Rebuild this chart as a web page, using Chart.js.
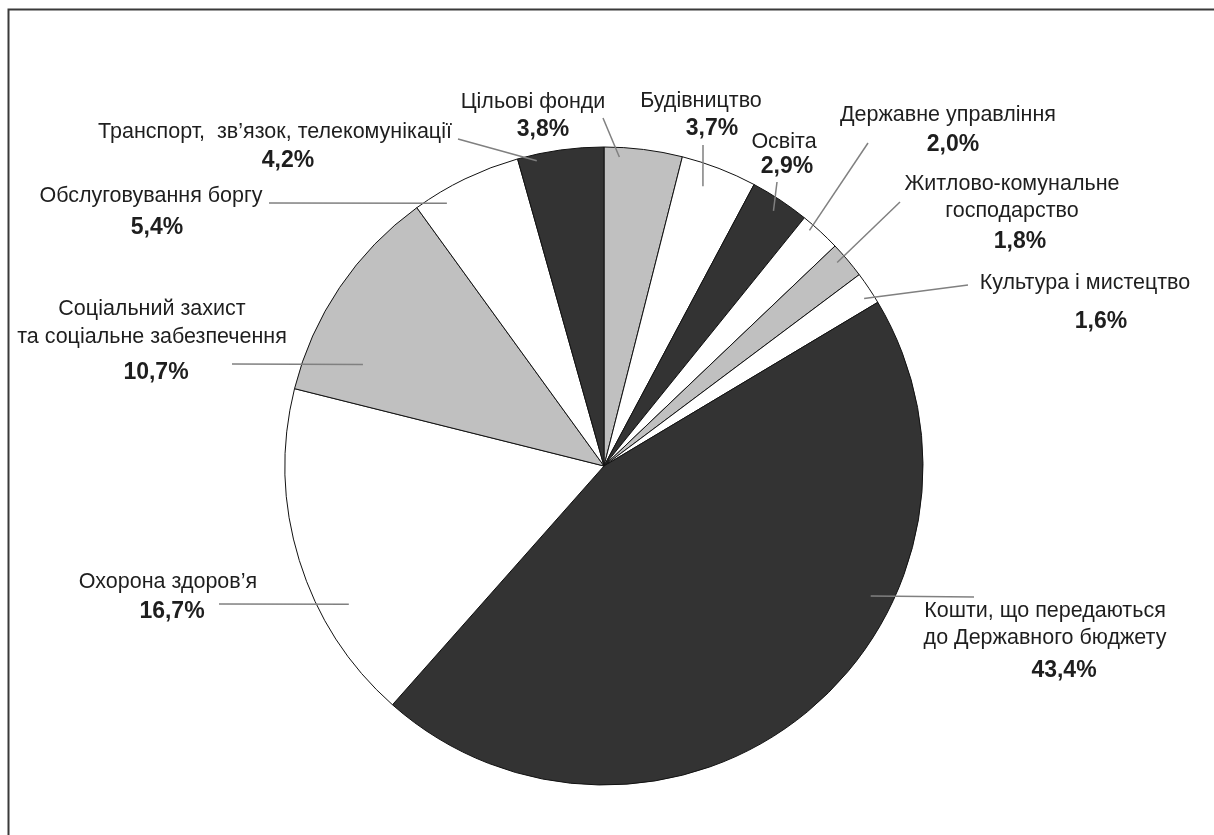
<!DOCTYPE html>
<html>
<head>
<meta charset="utf-8">
<script src="https://cdn.jsdelivr.net/npm/chart.js@4"></script>
<style>
  html, body { margin: 0; padding: 0; background: #fff; }
  #wrap { width: 1214px; height: 835px; position: relative; }
</style>
</head>
<body>
<div id="wrap"><canvas id="pie"></canvas></div>
<script>
// clockwise from 12 o'clock
const categories = [
  ["Цільові фонди"],
  ["Будівництво"],
  ["Освіта"],
  ["Державне управління"],
  ["Житлово-комунальне", "господарство"],
  ["Культура і мистецтво"],
  ["Кошти, що передаються", "до Державного бюджету"],
  ["Охорона здоров’я"],
  ["Соціальний захист", "та соціальне забезпечення"],
  ["Обслуговування боргу"],
  ["Транспорт,  зв’язок, телекомунікації"],
];
const shares = [3.8, 3.7, 2.9, 2.0, 1.8, 1.6, 43.4, 16.7, 10.7, 5.4, 4.2];
const pctLabels = ["3,8%", "3,7%", "2,9%", "2,0%", "1,8%", "1,6%", "43,4%", "16,7%", "10,7%", "5,4%", "4,2%"];

const DARK = "#333333";
const GREY = "#c0c0c0";
const WHITE = "#ffffff";
const sliceFills = [GREY, WHITE, DARK, WHITE, GREY, WHITE, DARK, WHITE, GREY, WHITE, DARK];

// label placement: text line centres, percent centre, leader line
// lead: [position across the slice 0..1, fraction of radius], end: outer end of the leader
const labelLayout = [
  { x: 533, y: [102], py: 130, px: 543, lead: [0.2, 0.97], end: [603, 118] },
  { x: 701, y: [101], py: 129, px: 712, lead: [0.38, 0.93], end: [703, 145] },
  { x: 784, y: [142], py: 167, px: 787, lead: [0.51, 0.96], end: [777, 182] },
  { x: 948, y: [115], py: 145, px: 953, lead: [0.29, 0.98], end: [868, 143] },
  { x: 1012, y: [184, 211], py: 242, px: 1020, lead: [0.37, 0.97], end: [900, 202] },
  { x: 1085, y: [283], py: 322, px: 1101, lead: [0.68, 0.97], end: [968, 285] },
  { x: 1045, y: [611, 638], py: 671, px: 1064, lead: [0.35, 0.93], end: [974, 597] },
  { x: 168, y: [582], py: 612, px: 172, lead: [0.32, 0.91], end: [219, 604] },
  { x: 152, y: [309, 337], py: 373, px: 156, lead: [0.22, 0.82], end: [232, 364] },
  { x: 151, y: [196], py: 228, px: 157, lead: [0.25, 0.96], end: [269, 203] },
  { x: 275, y: [132], py: 161, px: 288, lead: [0.21, 0.98], end: [458, 139] },
];

const FONT = "Liberation Sans, Arial, sans-serif";

const labelPlugin = {
  id: "sliceLabels",
  afterDraw(chart) {
    const ctx = chart.ctx;
    const arcs = chart.getDatasetMeta(0).data;
    ctx.save();

    // frame: top and left rules only
    ctx.strokeStyle = "#3a3a3a";
    ctx.lineWidth = 2;
    ctx.beginPath();
    ctx.moveTo(8.5, 835);
    ctx.lineTo(8.5, 9.5);
    ctx.lineTo(1214, 9.5);
    ctx.stroke();

    arcs.forEach((arc, i) => {
      const L = labelLayout[i];
      const a = arc.startAngle + (arc.endAngle - arc.startAngle) * L.lead[0];
      const r = arc.outerRadius * L.lead[1];
      ctx.strokeStyle = "#808080";
      ctx.lineWidth = 1.5;
      ctx.beginPath();
      ctx.moveTo(arc.x + Math.cos(a) * r, arc.y + Math.sin(a) * r);
      ctx.lineTo(L.end[0], L.end[1]);
      ctx.stroke();

      ctx.fillStyle = "#1e1e1e";
      ctx.textAlign = "center";
      ctx.textBaseline = "middle";
      ctx.font = "21.5px " + FONT;
      categories[i].forEach((line, k) => ctx.fillText(line, L.x, L.y[k]));
      ctx.font = "bold 23px " + FONT;
      ctx.fillText(pctLabels[i], L.px, L.py);
    });
    ctx.restore();
  },
};

new Chart(document.getElementById("pie"), {
  type: "pie",
  data: {
    labels: categories,
    datasets: [{
      data: shares,
      backgroundColor: sliceFills,
      borderColor: "#111111",
      borderWidth: 1,
    }],
  },
  options: {
    responsive: true,
    maintainAspectRatio: false,
    animation: false,
    layout: { padding: { left: 284.5, right: 290.5, top: 146.5, bottom: 49.5 } },
    plugins: {
      legend: { display: false },
      tooltip: { enabled: false },
    },
  },
  plugins: [labelPlugin],
});
</script>
</body>
</html>
